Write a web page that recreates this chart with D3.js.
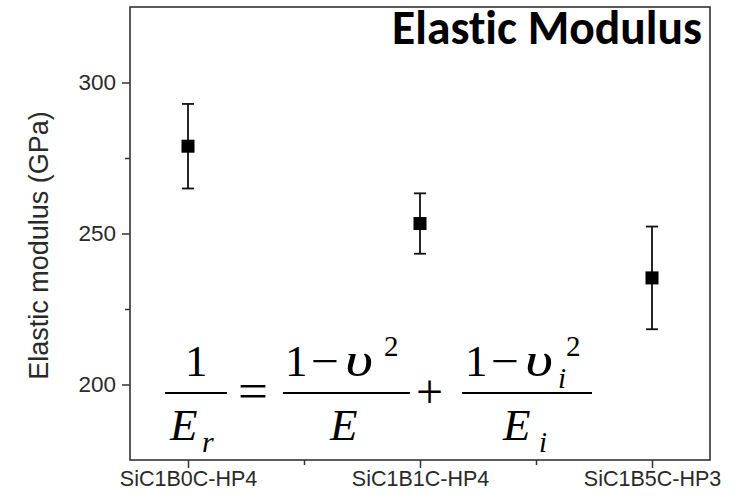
<!DOCTYPE html>
<html>
<head>
<meta charset="utf-8">
<script src="https://cdn.jsdelivr.net/npm/d3@7"></script>
<style>
  html, body { margin: 0; padding: 0; background: #fff; }
  svg { display: block; }
</style>
</head>
<body>
<svg id="chart" width="740" height="498"></svg>
<script>
// ---- data ----
const categories = ["SiC1B0C-HP4", "SiC1B1C-HP4", "SiC1B5C-HP3"];
const modulus = [278.9, 253.3, 235.3];
const errors = [14.0, 10.0, 17.0];
const yTicks = [200, 250, 300];
const yMinorTicks = [225, 275];
const titleText = "Elastic Modulus";
const yLabel = "Elastic modulus (GPa)";

// ---- layout ----
const W = 740, H = 498;
const plot = { left: 130, right: 710, top: 7, bottom: 460 };
const svg = d3.select("#chart");

const x = d3.scaleLinear().domain([0.75, 3.25]).range([plot.left, plot.right]);
const y = d3.scaleLinear().domain([175, 325]).range([plot.bottom, plot.top]);
const idx = categories.map((c, i) => i + 1);

const tickColor = "#333";
const labelColor = "#2a2a2a";

// Y axis (major)
const yAxis = svg.append("g").attr("transform", `translate(${plot.left},0)`)
  .call(d3.axisLeft(y).tickValues(yTicks).tickSize(8).tickPadding(6).tickFormat(d3.format("d")));
yAxis.select(".domain").remove();
yAxis.selectAll("line").attr("stroke", tickColor).attr("stroke-width", 1.5);
yAxis.selectAll("text").attr("font-family", "'Liberation Sans', Arial, sans-serif")
  .attr("font-size", 22.5).attr("fill", labelColor);

// Y axis (minor)
const yMinor = svg.append("g").attr("transform", `translate(${plot.left},0)`)
  .call(d3.axisLeft(y).tickValues(yMinorTicks).tickSize(5).tickFormat(""));
yMinor.select(".domain").remove();
yMinor.selectAll("line").attr("stroke", tickColor).attr("stroke-width", 1.5);

// X axis (major)
const xAxis = svg.append("g").attr("transform", `translate(0,${plot.bottom})`)
  .call(d3.axisBottom(x).tickValues(idx).tickSize(8).tickPadding(3)
    .tickFormat((d) => categories[d - 1]));
xAxis.select(".domain").remove();
xAxis.selectAll("line").attr("stroke", tickColor).attr("stroke-width", 1.5);
xAxis.selectAll("text").attr("font-family", "'Liberation Sans', Arial, sans-serif")
  .attr("font-size", 21.5).attr("fill", labelColor);

// X axis (minor)
const xMinor = svg.append("g").attr("transform", `translate(0,${plot.bottom})`)
  .call(d3.axisBottom(x).tickValues([1.5, 2.5]).tickSize(5).tickFormat(""));
xMinor.select(".domain").remove();
xMinor.selectAll("line").attr("stroke", tickColor).attr("stroke-width", 1.5);

// Frame
svg.append("rect")
  .attr("x", plot.left).attr("y", plot.top)
  .attr("width", plot.right - plot.left).attr("height", plot.bottom - plot.top)
  .attr("fill", "none").attr("stroke", tickColor).attr("stroke-width", 1.6);

// Y label
svg.append("text")
  .attr("transform", `translate(48,${(112 + 379) / 2}) rotate(-90)`)
  .attr("text-anchor", "middle")
  .attr("font-family", "'Liberation Sans', Arial, sans-serif")
  .attr("font-size", 27).attr("fill", labelColor)
  .text(yLabel);

// Error bars + markers
const pts = svg.append("g");
const capW = 12;
categories.forEach((c, i) => {
  const cx = x(i + 1);
  const g = pts.append("g");
  g.append("line").attr("x1", cx).attr("x2", cx)
    .attr("y1", y(modulus[i] + errors[i])).attr("y2", y(modulus[i] - errors[i]))
    .attr("stroke", "#111").attr("stroke-width", 1.8);
  [modulus[i] + errors[i], modulus[i] - errors[i]].forEach(v => {
    g.append("line").attr("x1", cx - capW / 2).attr("x2", cx + capW / 2)
      .attr("y1", y(v)).attr("y2", y(v))
      .attr("stroke", "#111").attr("stroke-width", 1.8);
  });
  g.append("rect").attr("x", cx - 6.5).attr("y", y(modulus[i]) - 6.5)
    .attr("width", 13).attr("height", 13).attr("fill", "#000");
});

// Title
const title = svg.append("text")
  .attr("x", 702).attr("y", 44)
  .attr("text-anchor", "end")
  .attr("font-family", "Carlito, Lato, 'Open Sans', sans-serif")
  .attr("font-weight", "bold")
  .style("font-variant-ligatures", "none")
  .attr("font-size", 38).attr("fill", "#000")
  .text(titleText);
const tw = title.node().getComputedTextLength();
title.attr("font-size", 38 * 310 / tw);

// Formula: 1/E_r = (1 - υ^2)/E + (1 - υ_i^2)/E_i
const serif = "'Liberation Serif', 'Times New Roman', serif";
const fs = 45;
const f = svg.append("g").attr("font-family", serif).attr("fill", "#000");
const barY = 393, numY = 376, denY = 440;
function bar(x1, x2) {
  f.append("line").attr("x1", x1).attr("x2", x2).attr("y1", barY).attr("y2", barY)
    .attr("stroke", "#000").attr("stroke-width", 2.2);
}
function glyph(t, gx, gy, size, italic, len) {
  const el = f.append("text").attr("x", gx).attr("y", gy).attr("font-size", size)
    .attr("font-style", italic ? "italic" : "normal").text(t);
  if (len) el.attr("textLength", len).attr("lengthAdjust", "spacingAndGlyphs");
}
// fraction 1
bar(165, 227);
glyph("1", 185, numY, fs, false);
glyph("E", 170, denY, fs, true);
glyph("r", 202, denY + 12, 30, true);
// equals
glyph("=", 238, 408, 50, false, 30);
// fraction 2
bar(283, 410);
glyph("1", 285, numY, fs, false);
glyph("\u2212", 311, numY, fs, false, 28);
glyph("\u03C5", 345, numY, 48, true, 28);
glyph("2", 384, 356, 29, false);
glyph("E", 330, denY, fs, true);
// plus
glyph("+", 416, 408, 48, false);
// fraction 3
bar(462, 592);
glyph("1", 465, numY, fs, false);
glyph("\u2212", 491, numY, fs, false, 28);
glyph("\u03C5", 525, numY, 48, true, 28);
glyph("2", 566, 356, 29, false);
glyph("i", 558, 388, 29, true);
glyph("E", 503, denY, fs, true);
glyph("i", 539, denY + 12, 29, true);
</script>
</body>
</html>
